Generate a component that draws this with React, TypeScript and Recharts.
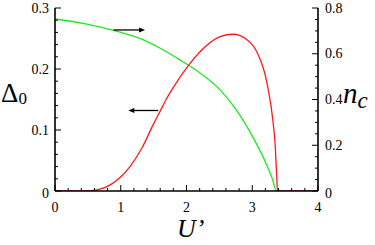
import { ComposedChart, Line, XAxis, YAxis, ReferenceLine, ReferenceDot } from "recharts"

// red curve, left axis (Delta_0)
const redU = [0, 0.4, 0.55, 0.68, 0.84, 0.99, 1.14, 1.32, 1.49, 1.6, 1.7, 1.8, 2.03, 2.31, 2.51, 2.71, 2.92, 3.07, 3.22, 3.32, 3.35, 3.37, 3.385, 4]
const redDelta = [0, 0, 0.0005, 0.003, 0.01, 0.022, 0.04, 0.07, 0.108, 0.131, 0.152, 0.17, 0.206, 0.239, 0.253, 0.257, 0.248, 0.228, 0.179, 0.11, 0.073, 0.029, 0, 0]

// green curve, right axis (n_c)
const greenU = [0, 0.43, 0.99, 1.29, 1.6, 1.9, 2.21, 2.51, 2.76, 3.02, 3.22, 3.3, 3.37, 4]
const greenNc = [0.752, 0.733, 0.694, 0.667, 0.624, 0.573, 0.515, 0.442, 0.354, 0.23, 0.114, 0.058, 0, 0]

const xMajor = [0, 1, 2, 3, 4]
const leftMajor = [0, 0.1, 0.2, 0.3]
const rightMajor = [0, 0.2, 0.4, 0.6, 0.8]

// arrows: [x1, x2, y]
const greenArrow = [0.89, 1.37, 0.704]
const redArrow = [1.57, 1.115, 0.132]

const FONT = '"Liberation Serif", "Times New Roman", Times, "DejaVu Serif", serif'
const RED = "#ff1a1a"
const GREEN = "#1ee81e"

const steps = (max: number, step: number) =>
  Array.from({ length: Math.round(max / step) + 1 }, (_, i) => Math.round(i * step * 1000) / 1000)

const isIn = (v: number, list: number[]) => list.some((m) => Math.abs(m - v) < 1e-6)

const redData = redU.map((u, i) => ({ u, delta: redDelta[i] }))
const greenData = greenU.map((u, i) => ({ u, nc: greenNc[i] }))

const fmt = (v: number) => (v === 0 ? "0" : v.toFixed(1))
const txt = { fontFamily: FONT }

function BottomTick({ x, y, payload }: any) {
  const major = isIn(payload.value, xMajor)
  return (
    <g>
      <line x1={x} x2={x} y1={y} y2={y - (major ? 6 : 3)} stroke="#000" />
      {major && (
        <text x={x} y={y + 21} textAnchor="middle" fontSize={14} style={txt} fill="#000">
          {payload.value}
        </text>
      )}
    </g>
  )
}

function TopTick({ x, y, payload }: any) {
  const major = isIn(payload.value, xMajor)
  return <line x1={x} x2={x} y1={y} y2={y + (major ? 6 : 3)} stroke="#000" />
}

function LeftTick({ x, y, payload }: any) {
  const v = payload.value
  const major = isIn(v, leftMajor)
  return (
    <g>
      <line x1={x} x2={x + (major ? 6 : 3)} y1={y} y2={y} stroke="#000" />
      {major && (
        <text x={x - 6} y={y + (v === 0 ? 2 : 0)} textAnchor="end" dominantBaseline="central" fontSize={14} style={txt} fill="#000">
          {fmt(v)}
        </text>
      )}
    </g>
  )
}

function RightTick({ x, y, payload }: any) {
  const v = payload.value
  const major = isIn(v, rightMajor)
  return (
    <g>
      <line x1={x} x2={x - (major ? 6 : 3)} y1={y} y2={y} stroke="#000" />
      {major && (
        <text x={x + 7} y={y + (v === 0 ? 2 : 0)} textAnchor="start" dominantBaseline="central" fontSize={14} style={txt} fill="#000">
          {fmt(v)}
        </text>
      )}
    </g>
  )
}

const headRight = ({ cx, cy }: any) => (
  <polygon points={`${cx},${cy} ${cx - 6},${cy - 2.5} ${cx - 6},${cy + 2.5}`} fill="#000" />
)
const headLeft = ({ cx, cy }: any) => (
  <polygon points={`${cx},${cy} ${cx + 6},${cy - 2.5} ${cx + 6},${cy + 2.5}`} fill="#000" />
)

export default function App() {
  const axisLine = { stroke: "#000", strokeWidth: 1.6 }
  return (
    <div style={{ position: "absolute", left: 0, top: 0, width: 375, height: 245, background: "#fff" }}>
      <ComposedChart width={375} height={245} margin={{ top: 8, right: 0, bottom: 0, left: 0 }}>
        <XAxis
          xAxisId="bottom"
          type="number"
          dataKey="u"
          domain={[0, 4]}
          allowDataOverflow
          ticks={steps(4, 0.2)}
          interval={0}
          height={54}
          tickSize={0}
          tickMargin={0}
          tickLine={false}
          axisLine={axisLine}
          tick={<BottomTick />}
        />
        <XAxis
          xAxisId="top"
          orientation="top"
          type="number"
          domain={[0, 4]}
          allowDataOverflow
          ticks={steps(4, 0.2)}
          interval={0}
          height={0}
          tickSize={0}
          tickMargin={0}
          tickLine={false}
          axisLine={axisLine}
          tick={<TopTick />}
        />
        <YAxis
          yAxisId="left"
          type="number"
          domain={[0, 0.3]}
          allowDataOverflow
          ticks={steps(0.3, 0.02)}
          interval={0}
          width={55}
          tickSize={0}
          tickMargin={0}
          tickLine={false}
          axisLine={axisLine}
          tick={<LeftTick />}
        />
        <YAxis
          yAxisId="right"
          orientation="right"
          type="number"
          domain={[0, 0.8]}
          allowDataOverflow
          ticks={steps(0.8, 0.05)}
          interval={0}
          width={57}
          tickSize={0}
          tickMargin={0}
          tickLine={false}
          axisLine={axisLine}
          tick={<RightTick />}
        />
        <Line
          data={greenData}
          dataKey="nc"
          xAxisId="bottom"
          yAxisId="right"
          type="monotone"
          stroke={GREEN}
          strokeWidth={1.3}
          dot={false}
          isAnimationActive={false}
        />
        <Line
          data={redData}
          dataKey="delta"
          xAxisId="bottom"
          yAxisId="left"
          type="monotone"
          stroke={RED}
          strokeWidth={1.3}
          dot={false}
          isAnimationActive={false}
        />
        <ReferenceLine
          xAxisId="bottom"
          yAxisId="right"
          segment={[{ x: greenArrow[0], y: greenArrow[2] }, { x: greenArrow[1] - 0.05, y: greenArrow[2] }]}
          stroke="#000"
          strokeWidth={1.3}
        />
        <ReferenceDot xAxisId="bottom" yAxisId="right" x={greenArrow[1]} y={greenArrow[2]} r={3} shape={headRight} />
        <ReferenceLine
          xAxisId="bottom"
          yAxisId="left"
          segment={[{ x: redArrow[0], y: redArrow[2] }, { x: redArrow[1] + 0.05, y: redArrow[2] }]}
          stroke="#000"
          strokeWidth={1.3}
        />
        <ReferenceDot xAxisId="bottom" yAxisId="left" x={redArrow[1]} y={redArrow[2]} r={3} shape={headLeft} />
      </ComposedChart>
      <svg width={375} height={245} style={{ position: "absolute", left: 0, top: 0, pointerEvents: "none" }}>
        <text x={1} y={102} fontSize={27} style={txt} fill="#000">
          Δ<tspan fontSize={17} dy={2}>0</tspan>
        </text>
        <text x={343} y={103} fontSize={29} fontStyle="italic" style={txt} fill="#000">
          n<tspan fontSize={23} dy={5}>c</tspan>
        </text>
        <text x={177} y={237} fontSize={26} fontStyle="italic" style={txt} fill="#000">
          U’
        </text>
      </svg>
    </div>
  )
}
